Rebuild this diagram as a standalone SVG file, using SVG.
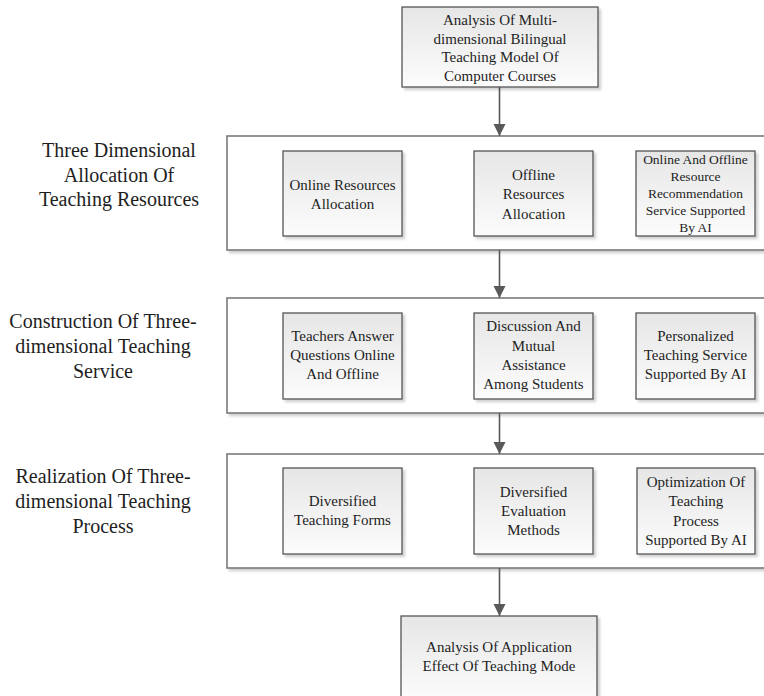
<svg xmlns="http://www.w3.org/2000/svg" width="764" height="696" viewBox="0 0 764 696">
<defs>
<linearGradient id="g" x1="0" y1="0" x2="0" y2="1">
<stop offset="0" stop-color="#e6e6e6"/>
<stop offset="1" stop-color="#fcfcfc"/>
</linearGradient>
<filter id="sh" x="-10%" y="-10%" width="125%" height="125%">
<feDropShadow dx="2.5" dy="2.5" stdDeviation="1.2" flood-color="#000" flood-opacity="0.18"/>
</filter>
<marker id="ah" markerUnits="userSpaceOnUse" markerWidth="14" markerHeight="14" viewBox="0 0 14 14" refX="13" refY="7" orient="auto">
<path d="M1,1 L13,7 L1,13 Z" fill="#595959"/>
</marker>
</defs>
<style>
.box{fill:url(#g);stroke:#555;stroke-width:1.3;filter:url(#sh)}
.cont{fill:#fff;stroke:#7a7a7a;stroke-width:1.6;filter:url(#sh)}
text{font-family:"Liberation Serif","Times New Roman",serif;fill:#1e1e1e;text-anchor:middle}
.t{font-size:15px}
.s{font-size:13.5px}
.lab{font-size:20px}
.conn{stroke:#595959;stroke-width:1.6;fill:none;marker-end:url(#ah)}
</style>
<rect width="764" height="696" fill="#fff"/>

<g id="containers">
<rect id="row1" class="cont" x="227" y="136" width="545" height="114"/>
<rect id="row2" class="cont" x="227" y="298" width="545" height="115"/>
<rect id="row3" class="cont" x="227" y="454" width="545" height="114"/>
</g>

<g id="labels" font-family="Liberation Serif, Times New Roman, serif">
<text class="lab"><tspan x="119" y="157">Three Dimensional</tspan><tspan x="119" y="182">Allocation Of</tspan><tspan x="119" y="206">Teaching Resources</tspan></text>
<text class="lab"><tspan x="103" y="328">Construction Of Three-</tspan><tspan x="103" y="353">dimensional Teaching</tspan><tspan x="103" y="378">Service</tspan></text>
<text class="lab"><tspan x="103" y="483">Realization Of Three-</tspan><tspan x="103" y="508">dimensional Teaching</tspan><tspan x="103" y="533">Process</tspan></text>
</g>

<g id="connectors">
<line class="conn" x1="499.5" y1="87" x2="499.5" y2="136"/>
<line class="conn" x1="499.5" y1="250" x2="499.5" y2="298"/>
<line class="conn" x1="499.5" y1="413" x2="499.5" y2="454"/>
<line class="conn" x1="499.5" y1="568" x2="499.5" y2="616"/>
</g>

<g id="top">
<rect class="box" x="402" y="7" width="196" height="80"/>
<text class="t"><tspan x="500" y="25">Analysis Of Multi-</tspan><tspan x="500" y="43.5">dimensional Bilingual</tspan><tspan x="500" y="62">Teaching Model Of</tspan><tspan x="500" y="80.5">Computer Courses</tspan></text>
</g>

<g id="r1a">
<rect class="box" x="283" y="151" width="119" height="85"/>
<text class="t"><tspan x="342.5" y="190">Online Resources</tspan><tspan x="342.5" y="209">Allocation</tspan></text>
</g>
<g id="r1b">
<rect class="box" x="474" y="151" width="119" height="85"/>
<text class="t"><tspan x="533.5" y="179.5">Offline</tspan><tspan x="533.5" y="199">Resources</tspan><tspan x="533.5" y="218.5">Allocation</tspan></text>
</g>
<g id="r1c">
<rect class="box" x="636" y="151" width="119" height="85"/>
<text class="s"><tspan x="695.5" y="164">Online And Offline</tspan><tspan x="695.5" y="181">Resource</tspan><tspan x="695.5" y="198">Recommendation</tspan><tspan x="695.5" y="215">Service Supported</tspan><tspan x="695.5" y="232">By AI</tspan></text>
</g>

<g id="r2a">
<rect class="box" x="283" y="313" width="119" height="86"/>
<text class="t"><tspan x="342.5" y="341">Teachers Answer</tspan><tspan x="342.5" y="360">Questions Online</tspan><tspan x="342.5" y="379">And Offline</tspan></text>
</g>
<g id="r2b">
<rect class="box" x="474" y="313" width="119" height="86"/>
<text class="t"><tspan x="533.5" y="331">Discussion And</tspan><tspan x="533.5" y="350.5">Mutual</tspan><tspan x="533.5" y="369.5">Assistance</tspan><tspan x="533.5" y="389">Among Students</tspan></text>
</g>
<g id="r2c">
<rect class="box" x="636" y="313" width="119" height="86"/>
<text class="t"><tspan x="695.5" y="341">Personalized</tspan><tspan x="695.5" y="360">Teaching Service</tspan><tspan x="695.5" y="379">Supported By AI</tspan></text>
</g>

<g id="r3a">
<rect class="box" x="283" y="468" width="119" height="86"/>
<text class="t"><tspan x="342.5" y="506">Diversified</tspan><tspan x="342.5" y="525">Teaching Forms</tspan></text>
</g>
<g id="r3b">
<rect class="box" x="474" y="468" width="119" height="86"/>
<text class="t"><tspan x="533.5" y="496.5">Diversified</tspan><tspan x="533.5" y="516">Evaluation</tspan><tspan x="533.5" y="535">Methods</tspan></text>
</g>
<g id="r3c">
<rect class="box" x="637" y="468" width="118" height="86"/>
<text class="t"><tspan x="696" y="487">Optimization Of</tspan><tspan x="696" y="506">Teaching</tspan><tspan x="696" y="525.5">Process</tspan><tspan x="696" y="544.5">Supported By AI</tspan></text>
</g>

<g id="bottom">
<rect class="box" x="401" y="616" width="196" height="84"/>
<text class="t"><tspan x="499" y="652">Analysis Of Application</tspan><tspan x="499" y="670.5">Effect Of Teaching Mode</tspan></text>
</g>
</svg>
